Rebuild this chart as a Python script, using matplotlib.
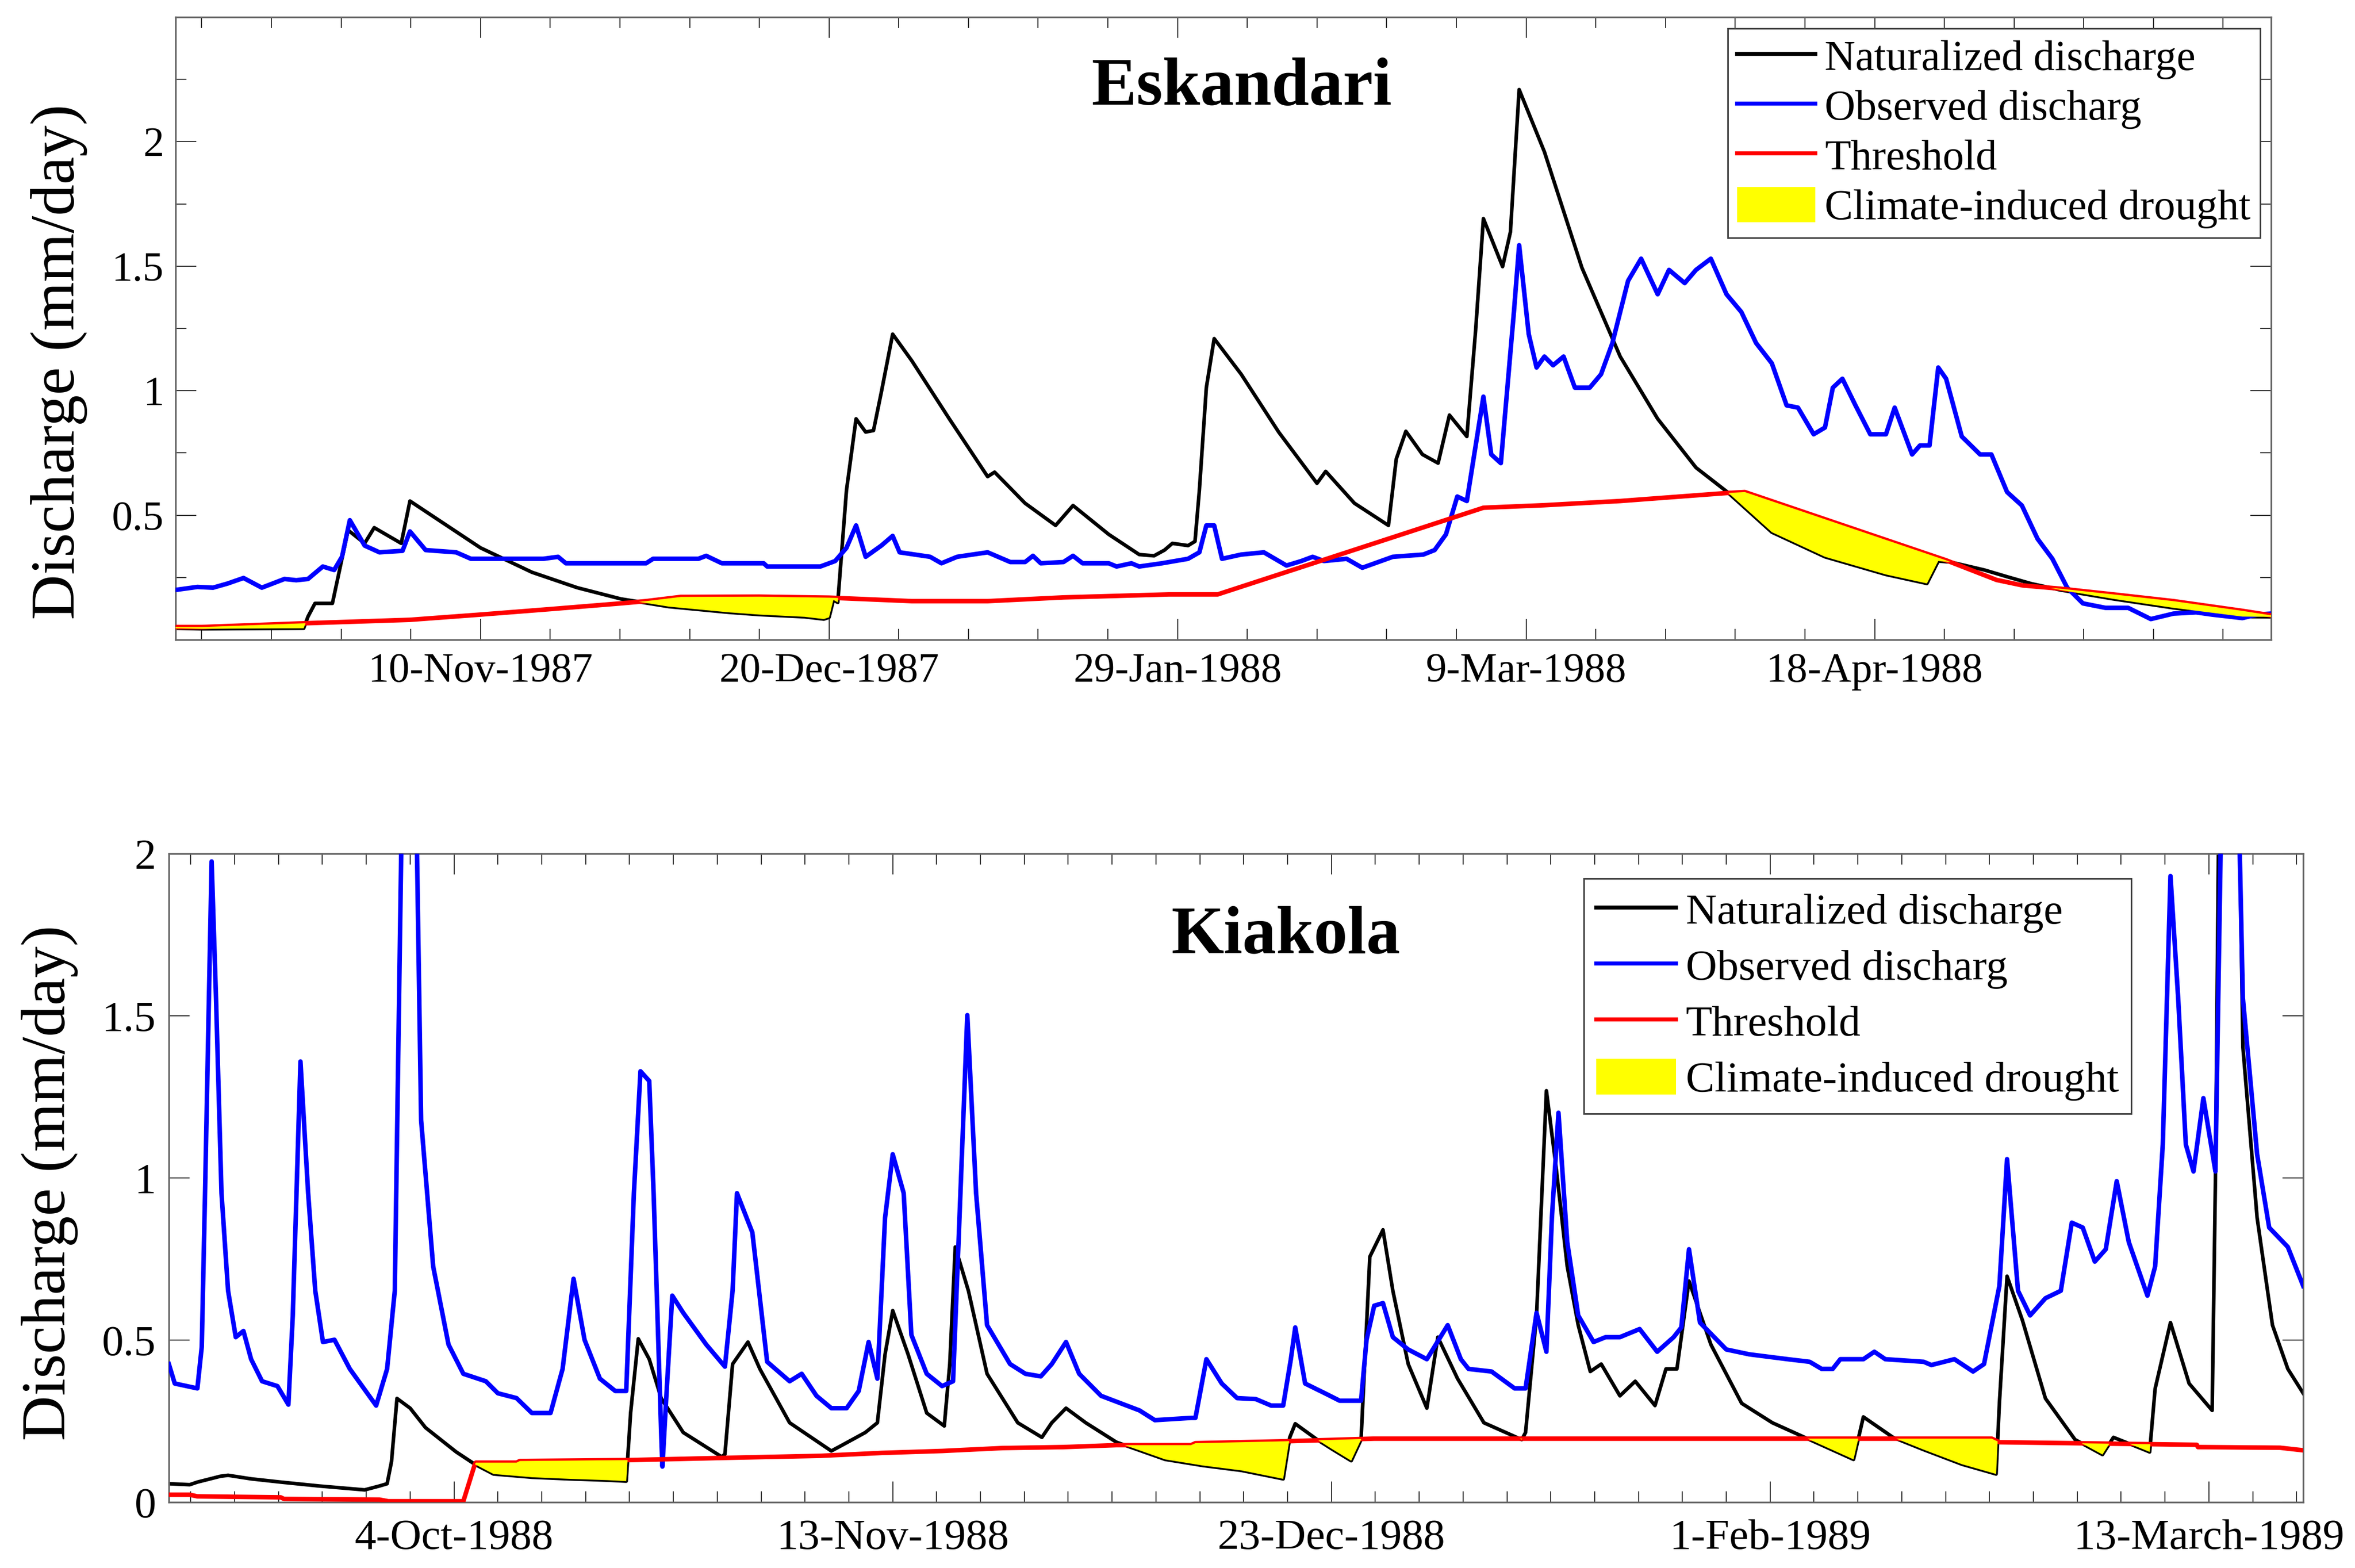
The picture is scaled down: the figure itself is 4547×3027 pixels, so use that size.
import numpy as np
import matplotlib
matplotlib.use('Agg')
import matplotlib.pyplot as plt
from matplotlib.lines import Line2D
from matplotlib.patches import Patch
from matplotlib.ticker import FixedLocator, NullFormatter

plt.rcParams['font.family'] = ['Liberation Serif', 'DejaVu Serif']

# ---------------- Eskandari (days since 6-Oct-1987) ----------------
esk_start = '1987-10-06'
esk_end = 240.5

esk_nat_day = [0, 3, 14.7, 15.2, 16.0, 18.0, 19.8, 21.7, 22.8, 25.9, 26.9, 30.0, 35.0,
               40.9, 46.1, 51.1, 56.6, 63.5, 67.0, 72.2, 74.4, 75.0, 75.5, 76.0, 77.0,
               78.1, 79.2, 80.1, 81.0, 82.3, 84.5, 88.8, 93.2, 94.0, 97.5, 101.0, 103.0,
               107.1, 110.6, 112.3, 113.5, 114.4, 116.2, 117.0, 117.5, 118.3, 119.2,
               122.3, 126.6, 131.0, 132.0, 135.3, 139.2, 140.1, 141.2, 143.1, 144.9,
               146.2, 148.2, 149.2, 150.1, 152.3, 153.2, 154.2, 157.1, 161.4, 165.8,
               170.1, 174.5, 178.1, 183.2, 189.3, 196.3, 201.0, 202.3, 203.7, 207.6,
               210.2, 213.0, 216.3, 222.4, 229.3, 237.2, 240.5]
esk_nat = [0.046, 0.044, 0.046, 0.093, 0.146, 0.146, 0.44, 0.387, 0.45, 0.387, 0.557, 0.485,
           0.369, 0.271, 0.209, 0.164, 0.133, 0.11, 0.101, 0.092, 0.083, 0.09, 0.16, 0.15,
           0.6, 0.887, 0.834, 0.84, 0.994, 1.227, 1.12, 0.887, 0.655, 0.673, 0.548, 0.459,
           0.539, 0.423, 0.342, 0.337, 0.36, 0.387, 0.378, 0.395, 0.6, 1.012, 1.209,
           1.066, 0.834, 0.628, 0.676, 0.548, 0.459, 0.726, 0.837, 0.744, 0.709,
           0.902, 0.816, 1.24, 1.691, 1.498, 1.637, 2.209, 1.959, 1.494, 1.137,
           0.887, 0.691, 0.593, 0.432, 0.333, 0.262, 0.226, 0.316, 0.312, 0.28,
           0.253, 0.225, 0.2, 0.164, 0.128, 0.093, 0.092]

esk_obs_day = [0, 2.5, 4.3, 6.0, 7.8, 9.9, 12.5, 13.85, 15.2, 16.9, 18.2, 19.1, 20.0, 21.7,
               23.4, 26.05, 26.9, 28.7, 32.2, 33.9, 42.2, 43.9, 44.8, 54.0, 54.8, 60.0,
               60.9, 62.7, 67.5, 67.9, 74.0, 75.7, 77.0, 78.1, 79.2, 81.0, 82.3, 83.1,
               86.6, 87.9, 89.7, 93.2, 95.8, 97.5, 98.4, 99.3, 101.9, 103.0, 104.1,
               107.1, 108.0, 109.7, 110.6, 113.2, 116.2, 117.5, 118.3, 119.2, 120.1,
               122.3, 124.9, 127.5, 129.2, 130.5, 131.8, 134.4, 136.2, 139.7, 143.2,
               144.5, 145.8, 147.1, 148.2, 150.1, 151.0, 152.1, 153.6, 154.2, 155.3,
               156.2, 157.1, 158.1, 159.3, 160.6, 162.3, 163.6, 164.9, 166.7, 168.2,
               170.1, 171.4, 173.2, 174.5, 176.2, 178.0, 179.7, 181.4, 183.2, 184.9,
               186.2, 188.0, 189.3, 190.2, 191.3, 192.8, 194.5, 196.3, 197.3, 199.3,
               200.2, 201.3, 202.3, 203.2, 205.0, 207.1, 208.4, 210.2, 211.9, 213.7,
               215.4, 217.1, 218.9, 221.5, 224.1, 226.7, 229.3, 231.9, 233.7, 237.2,
               238.9, 240.5]
esk_obs = [0.2, 0.212, 0.209, 0.226, 0.248, 0.209, 0.244, 0.239, 0.244, 0.294, 0.28, 0.333,
           0.48, 0.378, 0.351, 0.357, 0.435, 0.36, 0.351, 0.325, 0.325, 0.333, 0.307, 0.307,
           0.325, 0.325, 0.337, 0.307, 0.307, 0.294, 0.294, 0.316, 0.369, 0.459, 0.333,
           0.378, 0.417, 0.351, 0.333, 0.307, 0.333, 0.351, 0.312, 0.312, 0.337, 0.307,
           0.312, 0.337, 0.307, 0.307, 0.294, 0.307, 0.294, 0.307, 0.325, 0.351, 0.459,
           0.459, 0.325, 0.342, 0.351, 0.298, 0.316, 0.333, 0.316, 0.325, 0.289, 0.333,
           0.342, 0.36, 0.423, 0.575, 0.557, 0.976, 0.744, 0.709, 1.316, 1.584, 1.227,
           1.093, 1.137, 1.102, 1.137, 1.012, 1.012, 1.066, 1.191, 1.441, 1.53, 1.387,
           1.485, 1.432, 1.485, 1.53, 1.387, 1.316, 1.191, 1.11, 0.941, 0.932, 0.825,
           0.852, 1.012, 1.048, 0.941, 0.825, 0.825, 0.932, 0.744, 0.78, 0.78, 1.093,
           1.048, 0.816, 0.744, 0.744, 0.593, 0.539, 0.405, 0.325, 0.209, 0.146, 0.128,
           0.128, 0.083, 0.105, 0.11, 0.101, 0.087, 0.101, 0.105]

esk_thr_day = [0, 3, 14.7, 26.9, 35.0, 43.0, 51.1, 54.0, 58.0, 67.0, 75.0, 84.5, 93.2,
               101.9, 114.0, 119.6, 150.1, 157.0, 165.8, 178.0, 180.1, 203.2, 209.0,
               212.0, 216.3, 222.4, 229.3, 237.2, 240.5]
esk_thr = [0.051, 0.051, 0.066, 0.08, 0.101, 0.123, 0.146, 0.155, 0.172, 0.173, 0.169,
           0.155, 0.155, 0.17, 0.182, 0.182, 0.53, 0.54, 0.557, 0.589, 0.593, 0.319,
           0.24, 0.218, 0.205, 0.182, 0.155, 0.116, 0.098]

esk_tick_dates = ['1987-11-10', '1987-12-20', '1988-01-29', '1988-03-09', '1988-04-18']
esk_tick_labels = ['10-Nov-1987', '20-Dec-1987', '29-Jan-1988', '9-Mar-1988', '18-Apr-1988']

# ---------------- Kiakola (days since 8-Sep-1988) ----------------
kia_start = '1988-09-08'
kia_end = 194.6

kia_nat_day = [0, 1.9, 2.6, 4.7, 5.4, 7.5, 10.2, 13.7, 17.85, 19.2, 19.9, 20.3, 20.8, 22.0,
               23.4, 26.2, 27.9, 29.6, 33.1, 36.5, 40.0, 41.7, 42.1, 42.8, 43.8, 44.9,
               46.9, 50.4, 50.7, 51.4, 52.8, 53.9, 56.6, 60.4, 61.5, 63.5, 64.6, 65.3,
               66.0, 67.4, 69.1, 70.7, 71.2, 71.7, 72.9, 74.6, 77.4, 79.6, 80.5, 81.8,
               83.6, 86.4, 90.84, 94.3, 97.8, 101.6, 102.2, 102.7, 104.7, 106.1, 107.8,
               108.7, 109.5, 110.7, 111.6, 113.0, 114.7, 115.7, 117.5, 119.9, 123.35,
               123.7, 124.7, 125.6, 126.5, 127.5, 128.5, 129.6, 130.6, 132.3, 133.7,
               135.5, 136.5, 137.5, 138.6, 140.6, 143.4, 146.2, 149.6, 153.6, 154.5,
               157.2, 160.0, 163.5, 166.6, 166.9, 167.6, 169.0, 171.1, 173.8, 176.3,
               177.3, 180.1, 180.6, 181.1, 182.5, 184.2, 186.3, 186.6, 187.0, 188.6,
               189.1, 190.4, 191.8, 193.2, 194.6]
kia_nat = [0.057, 0.054, 0.062, 0.08, 0.083, 0.072, 0.062, 0.05, 0.038, 0.05, 0.057, 0.125,
           0.32, 0.29, 0.23, 0.155, 0.117, 0.087, 0.077, 0.072, 0.068, 0.065, 0.275, 0.504,
           0.441, 0.32, 0.215, 0.14, 0.148, 0.426, 0.494, 0.41, 0.245, 0.158, 0.178, 0.215,
           0.245, 0.456, 0.591, 0.456, 0.275, 0.235, 0.426, 0.787, 0.652, 0.396, 0.245,
           0.2, 0.245, 0.29, 0.245, 0.185, 0.132, 0.113, 0.098, 0.072, 0.2, 0.242, 0.193,
           0.163, 0.128, 0.193, 0.757, 0.84, 0.652, 0.426, 0.29, 0.509, 0.381, 0.245,
           0.193, 0.215, 0.576, 1.269, 1.028, 0.727, 0.546, 0.403, 0.426, 0.328, 0.373,
           0.298, 0.411, 0.411, 0.682, 0.486, 0.305, 0.245, 0.193, 0.132, 0.263, 0.2,
           0.162, 0.117, 0.087, 0.305, 0.697, 0.561, 0.32, 0.193, 0.147, 0.2, 0.162,
           0.155, 0.35, 0.554, 0.366, 0.283, 1.0, 2.5, 2.5, 1.404, 0.877, 0.546, 0.411,
           0.336]

kia_obs_day = [0, 0.54, 2.6, 3.0, 3.3, 3.9, 4.3, 4.8, 5.4, 6.1, 6.8, 7.5, 8.5, 9.9, 10.9,
               11.3, 12.0, 12.7, 13.35, 14.05, 15.1, 16.5, 18.9, 19.9, 20.6, 21.4, 22.4,
               23.0, 24.1, 25.5, 26.85, 28.9, 30.0, 31.7, 33.1, 34.8, 35.9, 36.9, 37.9,
               39.3, 40.7, 41.7, 42.4, 43.0, 43.8, 44.2, 44.9, 45.0, 45.4, 45.9, 46.9,
               49.0, 50.7, 51.4, 51.8, 53.2, 54.55, 56.6, 57.7, 59.05, 60.4, 61.8, 62.9,
               63.8, 64.6, 65.3, 66.0, 67.0, 67.7, 69.1, 70.5, 71.5, 72.0, 72.8, 73.6,
               74.6, 76.7, 78.1, 79.5, 80.5, 81.8, 83.0, 85.0, 88.5, 89.9, 93.2, 93.6,
               94.6, 96.0, 97.4, 99.1, 100.5, 101.6, 102.3, 102.7, 103.6, 105.4, 106.75,
               108.7, 109.2, 109.9, 110.7, 111.6, 113.0, 114.7, 116.6, 117.8, 118.5,
               120.6, 122.7, 123.7, 124.7, 125.6, 126.1, 126.7, 127.5, 128.5, 129.9,
               131.0, 132.3, 134.1, 135.7, 137.2, 137.9, 138.6, 139.6, 142.0, 144.1,
               147.6, 149.6, 150.7, 151.7, 152.4, 154.5, 155.5, 156.5, 160.0, 160.7,
               162.8, 164.5, 165.5, 166.9, 167.6, 168.6, 169.7, 171.1, 172.5, 173.5,
               174.5, 175.6, 176.6, 177.6, 178.7, 180.4, 181.1, 181.8, 182.5, 183.2,
               183.9, 184.6, 185.5, 186.6, 187.0, 187.3, 188.5, 189.1, 190.4, 191.5,
               193.2, 194.6]
kia_obs = [0.426, 0.366, 0.351, 0.479, 0.953, 1.976, 1.555, 0.953, 0.652, 0.509, 0.528,
           0.441, 0.373, 0.358, 0.301, 0.576, 1.359, 0.953, 0.652, 0.494, 0.501, 0.411,
           0.298, 0.411, 0.652, 2.5, 2.5, 1.178, 0.727, 0.486, 0.396, 0.373, 0.336, 0.321,
           0.275, 0.275, 0.411, 0.689, 0.501, 0.381, 0.343, 0.343, 0.953, 1.329, 1.299,
           0.953, 0.2, 0.11, 0.351, 0.637, 0.584, 0.486, 0.418, 0.652, 0.953, 0.832,
           0.433, 0.373, 0.396, 0.328, 0.29, 0.29, 0.343, 0.494, 0.381, 0.877, 1.073,
           0.953, 0.516, 0.396, 0.358, 0.373, 0.802, 1.502, 0.953, 0.546, 0.426, 0.396,
           0.388, 0.426, 0.494, 0.396, 0.328, 0.283, 0.253, 0.26, 0.26, 0.441, 0.366,
           0.321, 0.318, 0.298, 0.298, 0.441, 0.539, 0.366, 0.336, 0.313, 0.313, 0.501,
           0.606, 0.614, 0.509, 0.471, 0.441, 0.546, 0.441, 0.411, 0.403, 0.351, 0.351,
           0.584, 0.464, 0.877, 1.201, 0.802, 0.576, 0.494, 0.509, 0.509, 0.534, 0.464,
           0.509, 0.539, 0.78, 0.554, 0.471, 0.456, 0.441, 0.433, 0.411, 0.411, 0.441,
           0.441, 0.464, 0.441, 0.433, 0.423, 0.441, 0.403, 0.426, 0.667, 1.058, 0.652,
           0.576, 0.629, 0.652, 0.862, 0.847, 0.742, 0.78, 0.99, 0.802, 0.637, 0.727,
           1.103, 1.931, 1.555, 1.103, 1.02, 1.246, 1.02, 1.856, 2.5, 2.5, 1.555, 1.073,
           0.847, 0.787, 0.667]

kia_thr_day = [0, 1.9, 2.6, 10.2, 10.5, 19.2, 20.0, 26.85, 27.9, 28.0, 31.7, 32.0, 42.1,
               51.1, 59.4, 65.0, 70.5, 76.0, 81.6, 86.4, 93.2, 93.6, 101.9, 109.9, 166.2,
               166.9, 184.9, 185.0, 192.5, 194.6]
kia_thr = [0.023, 0.023, 0.018, 0.015, 0.01, 0.008, 0.003, 0.003, 0.117, 0.122, 0.122,
           0.127, 0.13, 0.137, 0.143, 0.152, 0.158, 0.167, 0.17, 0.176, 0.176, 0.182,
           0.188, 0.196, 0.196, 0.185, 0.177, 0.17, 0.168, 0.16]

kia_tick_dates = ['1988-10-04', '1988-11-13', '1988-12-23', '1989-02-01', '1989-03-13']
kia_tick_labels = ['4-Oct-1988', '13-Nov-1988', '23-Dec-1988', '1-Feb-1989', '13-March-1989']

legend_labels = ['Naturalized discharge', 'Observed discharg', 'Threshold',
                 'Climate-induced drought']


def days_from(start, dates):
    return [(np.datetime64(d) - np.datetime64(start)) / np.timedelta64(1, 'D') for d in dates]


def draw_panel(ax, nat_day, nat, obs_day, obs, thr_day, thr):
    ax.plot(nat_day, nat, color='black', lw=5.0, zorder=2)
    ax.plot(obs_day, obs, color='#0000ff', lw=6.3, zorder=3)
    ax.plot(thr_day, thr, color='#ff0000', lw=6.3, zorder=4)
    # drought area: where naturalized flow falls below the threshold
    x = np.union1d(nat_day, thr_day)
    n = np.interp(x, nat_day, nat)
    t = np.interp(x, thr_day, thr)
    ax.fill_between(x, n, t, where=n < t, interpolate=True, facecolor='#ffff00',
                    edgecolor='none', lw=0, zorder=5)


def style_axes(ax, xmax, major, labels, minor, ymax, yticks, yminor, xpad, ypad, fs):
    ax.set_xlim(0, xmax)
    ax.set_ylim(0, ymax)
    ax.xaxis.set_major_locator(FixedLocator(major))
    ax.set_xticklabels(labels)
    ax.xaxis.set_minor_locator(FixedLocator(minor))
    ax.set_yticks(yticks)
    ax.set_yticklabels([('%g' % v) for v in yticks])
    ax.yaxis.set_minor_locator(FixedLocator(yminor))
    ax.yaxis.set_minor_formatter(NullFormatter())
    ax.tick_params(which='both', direction='in', top=True, right=True, color='#333333')
    ax.tick_params(which='major', length=29, width=1.5)
    ax.tick_params(which='minor', length=15, width=1.5)
    ax.tick_params(axis='x', which='major', pad=xpad, labelsize=fs)
    ax.tick_params(axis='y', which='major', pad=ypad, labelsize=fs)
    for s in ax.spines.values():
        s.set_color('#666666')
        s.set_linewidth(2.4)


def add_legend(ax, anchor, fs, spacing, bpad):
    handles = [Line2D([], [], color='black', lw=5.5),
               Line2D([], [], color='#0000ff', lw=5.5),
               Line2D([], [], color='#ff0000', lw=5.5),
               Patch(facecolor='#ffff00', edgecolor='none')]
    leg = ax.legend(handles, legend_labels, loc='upper right', bbox_to_anchor=anchor,
                    borderaxespad=0, fontsize=fs, borderpad=bpad, labelspacing=spacing,
                    handlelength=1.85, handleheight=0.9, handletextpad=0.22,
                    fancybox=False, framealpha=1, edgecolor='#404040')
    leg.get_frame().set_linewidth(2.2)
    leg.set_zorder(10)


fig = plt.figure(figsize=(45.47, 30.27), dpi=100)
ax1 = fig.add_axes([0.07455, 0.5920, 0.88982, 0.3971])
ax2 = fig.add_axes([0.0717, 0.04196, 0.9063, 0.41361])

# top panel
draw_panel(ax1, esk_nat_day, esk_nat, esk_obs_day, esk_obs, esk_thr_day, esk_thr)
esk_major = days_from(esk_start, esk_tick_dates)
esk_minor = [d for d in np.arange(3, esk_end, 8) if d not in esk_major]
style_axes(ax1, esk_end, esk_major, esk_tick_labels, esk_minor, 2.5,
           [0.5, 1, 1.5, 2], [0.25, 0.75, 1.25, 1.75, 2.25], 18, 16, 58)
ax1.text(0.5088, 0.859, 'Eskandari', transform=ax1.transAxes, ha='center',
         va='baseline', fontsize=94, fontweight='bold')
ax1.set_ylabel('Discharge (mm/day)', fontsize=87)
ax1.yaxis.label.set_va('center')
ax1.yaxis.set_label_coords(-0.0557, 0.446)
add_legend(ax1, (0.9948, 0.9817), 59, 0.19, 0.22)

# bottom panel
draw_panel(ax2, kia_nat_day, kia_nat, kia_obs_day, kia_obs, kia_thr_day, kia_thr)
kia_major = days_from(kia_start, kia_tick_dates)
kia_minor = [d for d in np.arange(2, kia_end, 4) if d not in kia_major]
style_axes(ax2, kia_end, kia_major, kia_tick_labels, kia_minor, 2,
           [0, 0.5, 1, 1.5, 2], [], 23, 18, 60)
ax2.text(0.5234, 0.847, 'Kiakola', transform=ax2.transAxes, ha='center',
         va='baseline', fontsize=94, fontweight='bold')
ax2.set_ylabel('Discharge (mm/day)', fontsize=87)
ax2.yaxis.label.set_va('center')
ax2.yaxis.set_label_coords(-0.0559, 0.492)
add_legend(ax2, (0.9194, 0.9617), 60, 0.32, 0.29)

fig.savefig('out.png', dpi=100, facecolor='white')
